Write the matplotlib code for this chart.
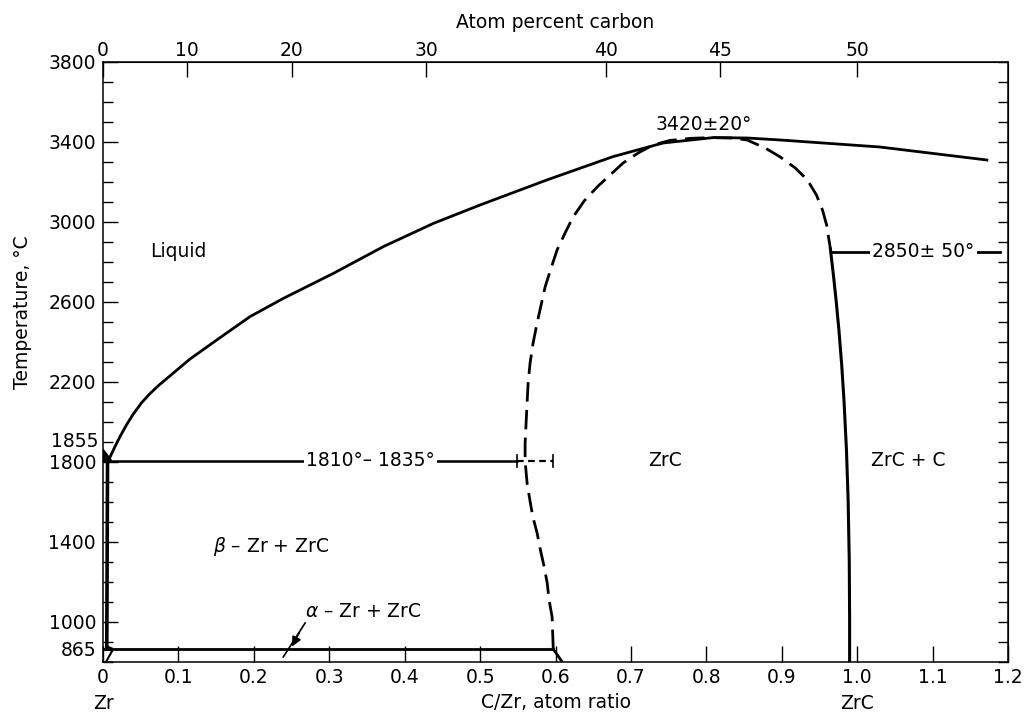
import numpy as np
import matplotlib.pyplot as plt
from matplotlib.ticker import MultipleLocator, FixedLocator, FixedFormatter
from matplotlib import transforms

plt.rcParams['font.family'] = ['DejaVu Sans']
plt.rcParams['font.size'] = 13.5
plt.rcParams['mathtext.fontset'] = 'dejavusans'

# liquidus: C/Zr atom ratio vs temperature (deg C)
liq_ratio = [0.007, 0.0106, 0.0159, 0.0225, 0.0314, 0.0402, 0.0513, 0.0623, 0.0729, 0.0845,
             0.1154, 0.1508, 0.1950, 0.2391, 0.3054, 0.3718, 0.4381, 0.500, 0.5885, 0.6764,
             0.7427, 0.809, 0.854, 0.898, 1.030, 1.172]
liq_temp = [1805, 1835, 1877, 1927, 1987, 2040, 2097, 2142, 2180, 2217,
            2315, 2410, 2527, 2618, 2743, 2877, 2993, 3085, 3210, 3327,
            3395, 3422, 3420, 3410, 3375, 3310]

# ZrC field boundary, uncertain (dashed) part, from 865 up over the maximum
zrc_dash_ratio = [0.597, 0.5955, 0.5915, 0.589, 0.585, 0.580, 0.5756, 0.570, 0.566, 0.5623,
                  0.5597, 0.5597, 0.561, 0.5623, 0.5637, 0.5663, 0.5703, 0.5756, 0.5809, 0.5862,
                  0.5942, 0.6021, 0.6127, 0.6233, 0.638, 0.6552, 0.6724, 0.6897, 0.7095, 0.7294,
                  0.752, 0.7785, 0.805, 0.834, 0.854, 0.878, 0.898, 0.918, 0.934, 0.946,
                  0.954, 0.9595, 0.9645]
zrc_dash_temp = [865, 1025, 1110, 1195, 1275, 1360, 1445, 1525, 1610, 1695,
                 1805, 1895, 1995, 2095, 2195, 2295, 2395, 2495, 2585, 2675,
                 2770, 2860, 2945, 3025, 3105, 3175, 3235, 3295, 3345, 3385,
                 3408, 3418, 3422, 3420, 3410, 3370, 3325, 3270, 3210, 3135,
                 3060, 2985, 2865]

# ZrC / ZrC + C boundary, solid part
zrc_c_ratio = [0.9645, 0.9685, 0.972, 0.9758, 0.9795, 0.9825, 0.9858, 0.988, 0.9895, 0.990, 0.990]
zrc_c_temp = [2865, 2735, 2610, 2460, 2285, 2110, 1860, 1610, 1310, 1010, 800]

# ZrC boundary below the alpha-Zr line
zrc_low_ratio = [0.597, 0.609]
zrc_low_temp = [865, 800]

# Zr-side solubility line
zr_side_ratio = [0.006, 0.005]
zr_side_temp = [1805, 865]

eutectic_temp = 1805
eutectic_solid_end = 0.549
eutectic_dash_end = 0.597
alpha_temp = 865
alpha_end = 0.597
carbon_eutectic_temp = 2850

x_ticks = [0, 0.1, 0.2, 0.3, 0.4, 0.5, 0.6, 0.7, 0.8, 0.9, 1.0, 1.1, 1.2]
x_labels = ['0', '0.1', '0.2', '0.3', '0.4', '0.5', '0.6', '0.7', '0.8', '0.9', '1.0', '1.1', '1.2']
y_ticks = [865, 1000, 1400, 1800, 2200, 2600, 3000, 3400, 3800]
at_pct_ticks = [0, 10, 20, 30, 40, 45, 50]

fig = plt.figure(figsize=(10.27, 7.25), dpi=100)
ax = fig.add_axes([0.1003, 0.0869, 0.8812, 0.8276])
ax.set_xlim(0, 1.2)
ax.set_ylim(800, 3800)
for sp in ax.spines.values():
    sp.set_linewidth(1.1)

lw = 2.0
ax.plot(liq_ratio, liq_temp, color='black', lw=lw, solid_joinstyle='round')
ax.plot(zrc_dash_ratio, zrc_dash_temp, color='black', lw=lw, dashes=(7, 3))
ax.plot(zrc_c_ratio, zrc_c_temp, color='black', lw=2.2, solid_joinstyle='round')
ax.plot(zrc_low_ratio, zrc_low_temp, color='black', lw=lw)
ax.plot(zr_side_ratio, zr_side_temp, color='black', lw=2.6)

# eutectic line with its uncertain end
ax.plot([0, eutectic_solid_end], [eutectic_temp, eutectic_temp], color='black', lw=1.8)
ax.plot([eutectic_solid_end, eutectic_dash_end], [eutectic_temp, eutectic_temp],
        color='black', lw=1.6, dashes=(3, 2))
for xe in (eutectic_solid_end, eutectic_dash_end):
    ax.plot([xe, xe], [eutectic_temp - 30, eutectic_temp + 30], color='black', lw=1.2)

# alpha/beta Zr line
ax.plot([0, alpha_end], [alpha_temp, alpha_temp], color='black', lw=2.0)

# small corner pieces near pure Zr
ax.fill([0, 0.012, 0.008, 0], [1870, 1810, 1793, 1798], color='black', lw=0)
ax.fill([0.004, 0.014, 0.012, 0.004], [885, 870, 855, 855], color='black', lw=0)
ax.plot([0.013, 0.004], [862, 800], color='black', lw=1.5)

# carbon-side eutectic
ax.plot([0.966, 1.19], [carbon_eutectic_temp, carbon_eutectic_temp], color='black', lw=2.0)

fs = 13.5
bbox_w = dict(facecolor='white', edgecolor='none', pad=1.5)
ax.text(0.062, 2850, 'Liquid', ha='left', va='center', fontsize=fs)
ax.text(0.355, eutectic_temp, '1810°– 1835°', ha='center', va='center', fontsize=fs, bbox=bbox_w)
ax.text(0.745, eutectic_temp, 'ZrC', ha='center', va='center', fontsize=fs)
ax.text(1.068, eutectic_temp, 'ZrC + C', ha='center', va='center', fontsize=fs)
ax.text(0.796, 3485, '3420±20°', ha='center', va='center', fontsize=fs)
ax.text(1.088, carbon_eutectic_temp, '2850± 50°', ha='center', va='center', fontsize=fs, bbox=bbox_w)
ax.text(0.146, 1375, r'$\beta$ – Zr + ZrC', ha='left', va='center', fontsize=fs)
ax.text(0.268, 1050, r'$\alpha$ – Zr + ZrC', ha='left', va='center', fontsize=fs)

# leader from the alpha label to the 865 line
ax.plot([0.268, 0.239], [995, 825], color='black', lw=1.2)
ax.annotate('', xy=(0.249, 865), xytext=(0.262, 960),
            arrowprops=dict(arrowstyle='-|>', color='black', lw=1.2, mutation_scale=14))

# bottom axis
ax.xaxis.set_major_locator(FixedLocator(x_ticks))
ax.xaxis.set_major_formatter(FixedFormatter(x_labels))
ax.tick_params(axis='x', which='major', direction='in', length=11.5, width=1.0,
               pad=4, top=False)
ax.set_xlabel('C/Zr, atom ratio', fontsize=fs, labelpad=5)

# left axis
ax.yaxis.set_major_locator(FixedLocator(y_ticks))
ax.yaxis.set_minor_locator(MultipleLocator(100))
ax.tick_params(axis='y', which='major', direction='in', length=11, width=1.0, pad=5, right=False)
ax.tick_params(axis='y', which='minor', direction='in', length=7, width=1.0, right=False)
ax.tick_params(labelsize=fs)
ax.annotate('1855', xy=(0, 1855), xycoords=('axes fraction', 'data'),
            xytext=(-3.6, 6.5), textcoords='offset points', ha='right', va='center', fontsize=fs)
ax.set_ylabel('Temperature, °C', fontsize=fs)
ax.yaxis.set_label_coords(-0.078, 0.583)

# composition end members below the axis
tr = transforms.blended_transform_factory(ax.transData, fig.transFigure)
ax.text(0.0, 0.030, 'Zr', transform=tr, ha='center', va='center', fontsize=fs)
ax.text(1.0, 0.030, 'ZrC', transform=tr, ha='center', va='center', fontsize=fs)

# right axis: plain ticks
right = ax.secondary_yaxis('right')
right.set_yticks(np.arange(800, 3801, 100))
right.tick_params(direction='in', length=7, width=1.0, labelright=False)


# top axis: atom percent carbon
def ratio_to_at(r):
    r = np.asarray(r, dtype=float)
    return 100.0 * r / (1.0 + r)


def at_to_ratio(a):
    a = np.asarray(a, dtype=float)
    return a / (100.0 - np.minimum(a, 99.0))


top = ax.secondary_xaxis('top', functions=(ratio_to_at, at_to_ratio))
top.set_xticks(at_pct_ticks)
top.set_xticklabels([str(v) for v in at_pct_ticks])
top.tick_params(direction='in', length=11, width=1.0, pad=1.5, labelsize=fs)
top.set_xlabel('Atom percent carbon', fontsize=fs, labelpad=9)

fig.savefig('out.png', dpi=100)
